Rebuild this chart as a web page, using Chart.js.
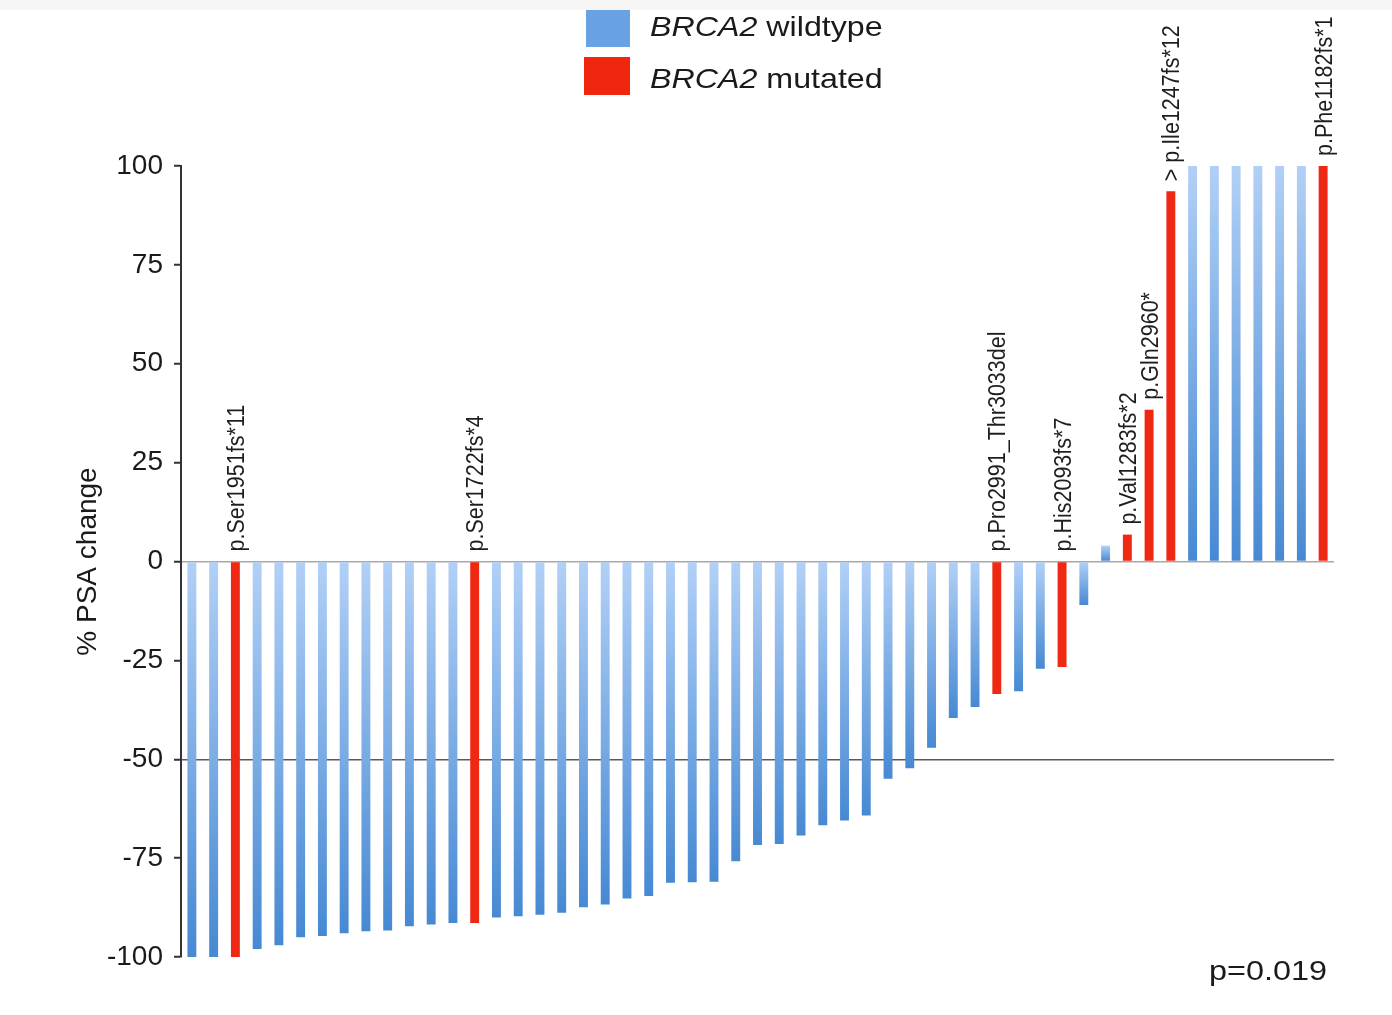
<!DOCTYPE html>
<html lang="en">
<head>
    <meta charset="UTF-8">
    <title>PSA change waterfall by BRCA2 status</title>
    <script src="https://cdn.jsdelivr.net/npm/chart.js"></script>
    <style>
        body { margin: 0; background: #fff; }
        #wrap { width: 1392px; height: 1015px; }
    </style>
</head>
<body>
    <div id="wrap"><canvas id="myChart" width="1392" height="1015"></canvas></div>

    <script>
        // one bar per patient, sorted by best PSA response
        const patients = ['1', '2', '3', '4', '5', '6', '7', '8', '9', '10',
            '11', '12', '13', '14', '15', '16', '17', '18', '19', '20',
            '21', '22', '23', '24', '25', '26', '27', '28', '29', '30',
            '31', '32', '33', '34', '35', '36', '37', '38', '39', '40',
            '41', '42', '43', '44', '45', '46', '47', '48', '49', '50',
            '51', '52', '53'];

        const psaChange = [-100, -100, -100, -98, -97, -95, -94.7, -94, -93.5, -93.3,
            -92.2, -91.8, -91.4, -91.4, -90, -89.7, -89.3, -88.8, -87.4, -86.7,
            -85.2, -84.6, -81.2, -81.1, -81, -75.8, -71.7, -71.4, -69.3, -66.7,
            -65.5, -64.2, -54.9, -52.3, -47.1, -39.6, -36.8, -33.5, -32.8, -27.1,
            -26.7, -11, 4, 6.8, 38.4, 93.6, 100, 100, 100, 100,
            100, 100, 100];

        // BRCA2 mutation per patient ('' = wildtype)
        const mutations = ['', '', 'p.Ser1951fs*11', '', '', '', '', '', '', '',
            '', '', '', 'p.Ser1722fs*4', '', '', '', '', '', '',
            '', '', '', '', '', '', '', '', '', '',
            '', '', '', '', '', '', '', 'p.Pro2991_Thr3033del', '', '',
            'p.His2093fs*7', '', '', 'p.Val1283fs*2', 'p.Gln2960*', '> p.Ile1247fs*12', '', '', '', '',
            '', '', 'p.Phe1182fs*1'];

        const yTicks = [-100, -75, -50, -25, 0, 25, 50, 75, 100];
        const pValue = 'p=0.019';

        const RED = '#ee2812';
        const BLUE_LIGHT = '#b2d0f6';
        const BLUE_DARK = '#4689d3';
        const FONT = '"Liberation Sans", Arial, sans-serif';

        Chart.defaults.font.family = FONT;
        Chart.defaults.color = '#1a1a1a';

        // text that is a bit wider than the font, like the scanned figure
        function wideText(ctx, text, x, y, sx, align) {
            const w = ctx.measureText(text).width * sx;
            const left = align === 'right' ? x - w : x;
            ctx.save();
            ctx.translate(left, y);
            ctx.scale(sx, 1);
            ctx.textAlign = 'left';
            ctx.fillText(text, 0, 0);
            ctx.restore();
            return w;
        }

        const decorPlugin = {
            id: 'decorPlugin',
            beforeDraw: (chart) => {
                const { ctx, width } = chart;
                ctx.save();
                ctx.fillStyle = '#f6f6f6';
                ctx.fillRect(0, 0, width, 10);
                ctx.restore();
            },
            afterDatasetsDraw: (chart) => {
                const { ctx, scales: { y } } = chart;
                const meta = chart.getDatasetMeta(0);
                const zeroY = y.getPixelForValue(0);
                ctx.save();
                ctx.font = '21.5px ' + FONT;
                ctx.fillStyle = '#1e1e1e';
                ctx.textBaseline = 'middle';
                ctx.textAlign = 'left';
                mutations.forEach((m, i) => {
                    if (!m) return;
                    const bar = meta.data[i];
                    const top = Math.min(bar.y, zeroY);
                    ctx.save();
                    ctx.translate(bar.x + 2, top - 10);
                    ctx.rotate(-Math.PI / 2);
                    ctx.scale(1, 1.1);
                    ctx.fillText(m, 0, 0);
                    ctx.restore();
                });
                ctx.restore();
            },
            afterDraw: (chart) => {
                const { ctx, chartArea } = chart;
                ctx.save();
                // legend
                const items = [
                    { color: '#68a2e2', rest: ' wildtype', box: [586, 10, 44, 37], base: 36 },
                    { color: '#f0260f', rest: ' mutated', box: [584, 57, 46, 38], base: 88 }
                ];
                items.forEach(it => {
                    ctx.fillStyle = it.color;
                    ctx.fillRect(...it.box);
                    ctx.fillStyle = '#1a1a1a';
                    ctx.textBaseline = 'alphabetic';
                    ctx.font = 'italic 28px ' + FONT;
                    const w = wideText(ctx, 'BRCA2', 650, it.base, 1.15, 'left');
                    ctx.font = '28px ' + FONT;
                    wideText(ctx, it.rest, 650 + w, it.base, 1.15, 'left');
                });
                // p value
                ctx.font = '27px ' + FONT;
                wideText(ctx, pValue, chartArea.right - 7, 980, 1.2, 'right');
                ctx.restore();
            }
        };

        const data = {
            labels: patients,
            datasets: [{
                label: '% PSA change',
                data: psaChange,
                barPercentage: 0.41,
                categoryPercentage: 1.0,
                backgroundColor: (c) => {
                    const i = c.dataIndex;
                    if (i === undefined) return BLUE_DARK;
                    if (mutations[i]) return RED;
                    const { ctx, chartArea, scales } = c.chart;
                    if (!chartArea || !scales.y) return BLUE_DARK;
                    const y0 = scales.y.getPixelForValue(0);
                    const y1 = scales.y.getPixelForValue(psaChange[i]);
                    const g = ctx.createLinearGradient(0, Math.min(y0, y1), 0, Math.max(y0, y1));
                    g.addColorStop(0, BLUE_LIGHT);
                    g.addColorStop(1, BLUE_DARK);
                    return g;
                }
            }]
        };

        const config = {
            type: 'bar',
            data: data,
            options: {
                responsive: false,
                animation: false,
                layout: {
                    padding: { top: 166, bottom: 58, left: 0, right: 58 }
                },
                plugins: {
                    legend: { display: false },
                    tooltip: { enabled: false }
                },
                scales: {
                    x: {
                        display: false
                    },
                    y: {
                        min: -100,
                        max: 100,
                        z: 1,
                        afterFit: (scale) => { scale.width = 181; },
                        afterBuildTicks: (scale) => {
                            scale.ticks = yTicks.map(v => ({ value: v }));
                        },
                        ticks: {
                            padding: 11,
                            font: { size: 28 },
                            color: '#1a1a1a'
                        },
                        grid: {
                            color: (c) => c.tick && c.tick.value === -50 ? '#5a5a5a'
                                : (c.tick && c.tick.value === 0 ? '#a8a8a8' : 'rgba(0,0,0,0)'),
                            lineWidth: 1.5,
                            tickLength: 7,
                            tickColor: '#333',
                            tickWidth: 2
                        },
                        border: {
                            display: true,
                            color: '#333',
                            width: 2
                        },
                        title: {
                            display: true,
                            text: '% PSA change',
                            font: { size: 28 },
                            color: '#1a1a1a',
                            padding: { top: 71, bottom: 0 }
                        }
                    }
                }
            },
            plugins: [decorPlugin]
        };

        const ctx = document.getElementById('myChart').getContext('2d');
        new Chart(ctx, config);
    </script>
</body>
</html>
